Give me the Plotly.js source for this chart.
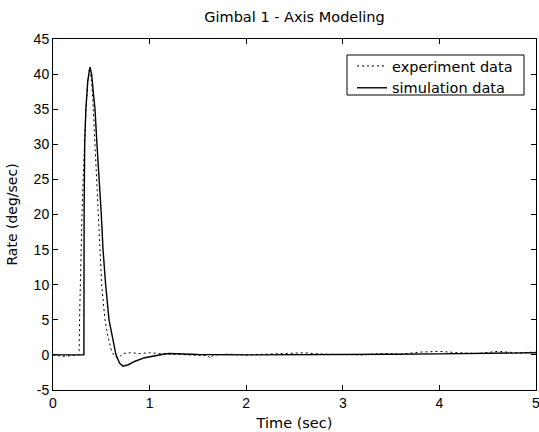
<!DOCTYPE html>
<html>
<head>
<meta charset="utf-8">
<script src="https://cdn.plot.ly/plotly-3.0.1.min.js"></script>
<style>html,body{margin:0;padding:0;background:#fff;}#chart{width:539px;height:432px;}</style>
</head>
<body>
<div id="chart"></div>
<script>
// Simulation data (solid)
const simTime = [0, 0.32, 0.322, 0.328, 0.34, 0.36, 0.383, 0.40, 0.42, 0.435, 0.455, 0.479, 0.50, 0.518, 0.545, 0.58, 0.62, 0.652, 0.69, 0.725, 0.78, 0.85, 0.95, 1.05, 1.14, 1.2, 1.3, 1.5, 2.0, 2.5, 3.0, 3.5, 4.0, 4.5, 5.0];
const simRate = [0, 0, 20, 30, 35, 39, 41, 40, 37, 35, 30, 25, 20, 15, 10, 5, 2, 0, -1.2, -1.6, -1.4, -0.9, -0.4, -0.1, 0.1, 0.2, 0.15, 0.05, 0.0, 0.0, 0.05, 0.1, 0.15, 0.2, 0.3];

// Experiment data (dotted)
const expTime = [0, 0.1, 0.2, 0.27, 0.275, 0.285, 0.30, 0.315, 0.324, 0.342, 0.36, 0.373, 0.39, 0.405, 0.417, 0.452, 0.487, 0.504, 0.538, 0.57, 0.608, 0.63, 0.66, 0.69, 0.72, 0.8, 0.9, 1.0, 1.1, 1.2, 1.4, 1.6, 1.63, 1.66, 1.8, 2.0, 2.2, 2.4, 2.6, 2.8, 3.0, 3.2, 3.4, 3.6, 3.8, 4.0, 4.2, 4.4, 4.6, 4.8, 5.0];
const expRate = [0, -0.2, -0.1, 0, 5, 12, 20, 26, 30, 35, 39, 40.5, 40, 38, 35, 25, 15, 10, 5, 2.5, 0.5, 0, -0.4, -0.3, 0.2, 0.3, 0.2, 0.3, 0.2, 0.1, 0.0, -0.1, -0.5, 0.0, 0.1, 0.0, 0.1, 0.2, 0.3, 0.1, 0.1, 0.0, 0.2, 0.1, 0.4, 0.5, 0.3, 0.2, 0.5, 0.3, 0.4];

const xTicks = [0, 1, 2, 3, 4, 5];
const yTicks = [-5, 0, 5, 10, 15, 20, 25, 30, 35, 40, 45];

const font = "'Liberation Sans', Arial, Helvetica, sans-serif";
const wideFont = "'DejaVu Sans', Verdana, sans-serif";

const traces = [
  {x: expTime, y: expRate, mode: 'lines', name: 'experiment data',
   line: {color: '#000', width: 1, dash: '2px,3px'}},
  {x: simTime, y: simRate, mode: 'lines', name: 'simulation data',
   line: {color: '#000', width: 1.4}}
];

const axisCommon = {
  showline: true, linecolor: '#000', linewidth: 1, mirror: 'allticks',
  ticks: 'inside', ticklen: 5, tickcolor: '#000', showgrid: false, zeroline: false,
  tickfont: {family: font, size: 14, color: '#000'}, automargin: false,
  ticklabeloverflow: 'allow'
};

// plot area in pixels (for legend box placement)
const L = 53, R = 536, T = 39, B = 390;

const layout = {
  width: 539, height: 432,
  margin: {l: L, r: 539 - R, t: T, b: 432 - B},
  paper_bgcolor: '#fff', plot_bgcolor: '#fff',
  font: {family: font, color: '#000'},
  showlegend: true,
  title: {text: 'Gimbal 1 - Axis Modeling', font: {family: wideFont, size: 14.5, color: '#000'},
          x: 0.5, xref: 'paper', y: 1 - 17/432, yref: 'container', yanchor: 'middle'},
  xaxis: Object.assign({}, axisCommon, {
    range: [0, 5.0005], tickvals: xTicks, ticktext: xTicks.map(String),
    title: {text: 'Time (sec)', font: {family: wideFont, size: 14.5, color: '#000'}, standoff: 8}
  }),
  yaxis: Object.assign({}, axisCommon, {
    range: [-5, 45], tickvals: yTicks, ticktext: yTicks.map(String),
    title: {text: 'Rate (deg/sec)', font: {family: wideFont, size: 14, color: '#000'}, standoff: 12}
  }),
  legend: {
    x: (352 - L) / (R - L), xanchor: 'left', y: (B - 50) / (B - T), yanchor: 'top',
    bgcolor: 'rgba(0,0,0,0)', borderwidth: 0,
    font: {family: wideFont, size: 14.5, color: '#000'},
    tracegroupgap: 0, itemwidth: 30
  },
  shapes: [{
    type: 'rect', xref: 'paper', yref: 'paper', layer: 'below',
    x0: (347 - L) / (R - L), x1: (524 - L) / (R - L),
    y0: (B - 95) / (B - T), y1: (B - 55) / (B - T),
    line: {color: '#000', width: 1}, fillcolor: '#fff'
  }]
};

Plotly.newPlot('chart', traces, layout, {staticPlot: true, displayModeBar: false});
</script>
</body>
</html>
